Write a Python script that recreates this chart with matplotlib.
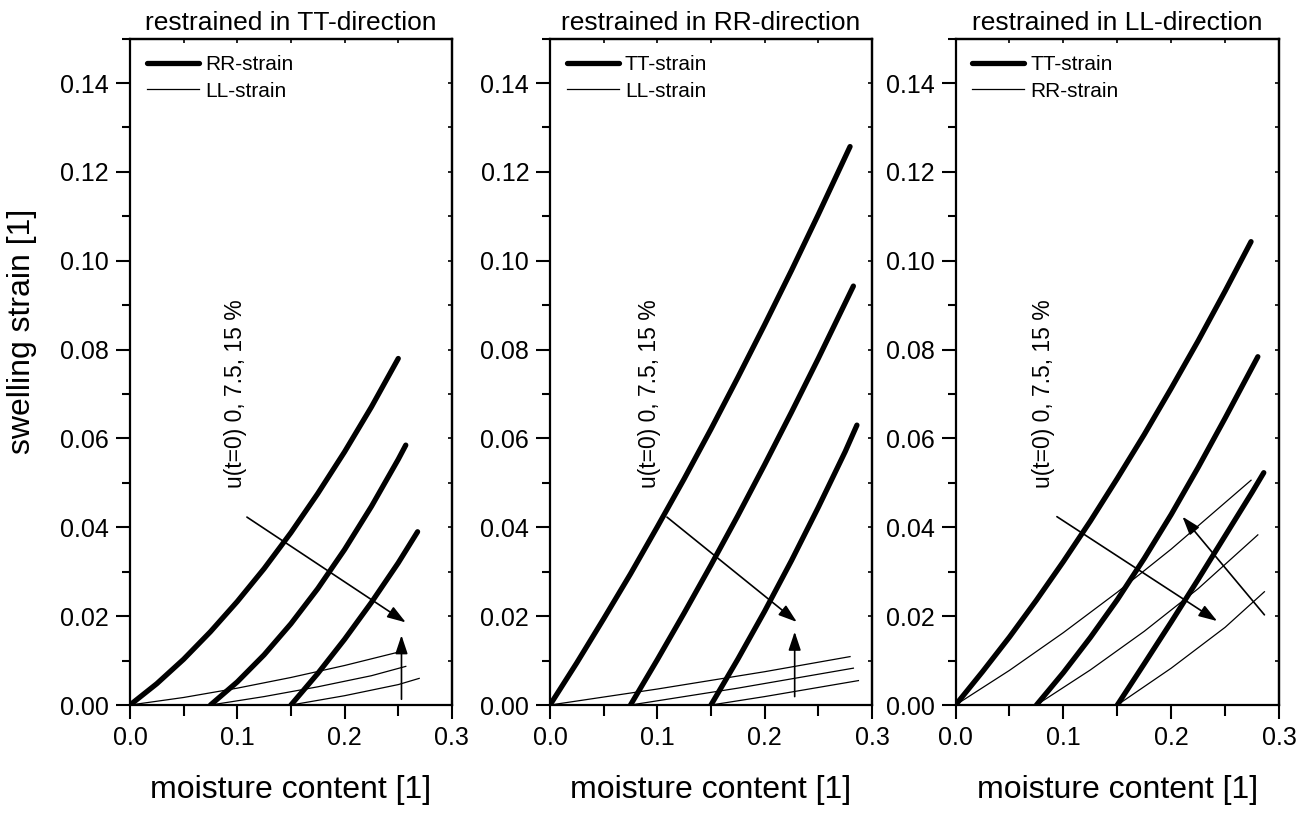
import matplotlib
matplotlib.use("Agg")
import matplotlib.pyplot as plt
from matplotlib.ticker import MultipleLocator, FormatStrFormatter

plt.rcParams["font.family"] = ["Liberation Sans", "DejaVu Sans"]

# panel titles and legend labels
titles = ["restrained in TT-direction", "restrained in RR-direction", "restrained in LL-direction"]
thick_labels = ["RR-strain", "TT-strain", "TT-strain"]
thin_labels = ["LL-strain", "LL-strain", "RR-strain"]
note = "u(t=0) 0, 7.5, 15 %"

# panel 1: restrained in TT-direction
p1_thick_x = [[0.0, 0.025, 0.05, 0.075, 0.10, 0.125, 0.15, 0.175, 0.20, 0.225, 0.25],
              [0.075, 0.10, 0.125, 0.15, 0.175, 0.20, 0.225, 0.25, 0.257],
              [0.15, 0.175, 0.20, 0.225, 0.25, 0.268]]
p1_thick_y = [[0.0, 0.0048, 0.0103, 0.0165, 0.0233, 0.0307, 0.0388, 0.0476, 0.057, 0.0671, 0.078],
              [0.0, 0.0052, 0.0113, 0.0183, 0.0262, 0.035, 0.0447, 0.0553, 0.0585],
              [0.0, 0.0071, 0.0148, 0.0231, 0.0320, 0.039]]
p1_thin_x = [[0.0, 0.05, 0.10, 0.15, 0.20, 0.25],
             [0.075, 0.125, 0.175, 0.225, 0.257],
             [0.15, 0.20, 0.25, 0.2695]]
p1_thin_y = [[0.0, 0.0017, 0.0038, 0.0062, 0.0089, 0.0119],
             [0.0, 0.0019, 0.0041, 0.0066, 0.0087],
             [0.0, 0.0021, 0.0046, 0.0060]]

# panel 2: restrained in RR-direction
p2_thick_x = [[0.0, 0.025, 0.05, 0.075, 0.10, 0.125, 0.15, 0.175, 0.20, 0.225, 0.25, 0.2796],
              [0.075, 0.10, 0.125, 0.15, 0.175, 0.20, 0.225, 0.25, 0.2827],
              [0.15, 0.175, 0.20, 0.225, 0.25, 0.275, 0.286]]
p2_thick_y = [[0.0, 0.0095, 0.0194, 0.0295, 0.0401, 0.0509, 0.0621, 0.0737, 0.0856, 0.0978, 0.1104, 0.1257],
              [0.0, 0.0102, 0.0207, 0.0315, 0.0426, 0.0541, 0.0659, 0.078, 0.0943],
              [0.0, 0.0103, 0.0211, 0.0325, 0.0445, 0.057, 0.063]]
p2_thin_x = [[0.0, 0.10, 0.20, 0.2796],
             [0.075, 0.175, 0.2827],
             [0.15, 0.20, 0.2874]]
p2_thin_y = [[0.0, 0.0036, 0.0075, 0.0109],
             [0.0, 0.0038, 0.0083],
             [0.0, 0.0019, 0.0055]]

# panel 3: restrained in LL-direction
p3_thick_x = [[0.0, 0.025, 0.05, 0.075, 0.10, 0.125, 0.15, 0.175, 0.20, 0.225, 0.25, 0.274],
              [0.075, 0.10, 0.125, 0.15, 0.175, 0.20, 0.225, 0.25, 0.2803],
              [0.15, 0.175, 0.20, 0.225, 0.25, 0.275, 0.2858]]
p3_thick_y = [[0.0, 0.0075, 0.0153, 0.0236, 0.0323, 0.0414, 0.051, 0.0609, 0.0713, 0.082, 0.0932, 0.1043],
              [0.0, 0.0073, 0.0152, 0.0237, 0.033, 0.0429, 0.0535, 0.0646, 0.0784],
              [0.0, 0.0093, 0.0187, 0.0283, 0.0381, 0.0479, 0.0523]]
p3_thin_x = [[0.0, 0.05, 0.10, 0.15, 0.20, 0.274],
             [0.075, 0.125, 0.175, 0.225, 0.2803],
             [0.15, 0.20, 0.25, 0.2864]]
p3_thin_y = [[0.0, 0.0078, 0.0163, 0.0254, 0.0351, 0.0506],
             [0.0, 0.0079, 0.0166, 0.0262, 0.0383],
             [0.0, 0.0083, 0.0175, 0.0255]]

# annotation arrows (start, tip) in data units
p1_arrows = [((0.109, 0.0423), (0.257, 0.0186)), ((0.253, 0.0013), (0.253, 0.0157))]
p2_arrows = [((0.109, 0.0423), (0.230, 0.0187)), ((0.228, 0.0019), (0.228, 0.0165))]
p3_arrows = [((0.094, 0.0424), (0.2426, 0.0189)), ((0.2864, 0.0203), (0.2104, 0.0424))]
note_pos = [(0.098, 0.070), (0.093, 0.070), (0.082, 0.070)]

panels = [
    (p1_thick_x, p1_thick_y, p1_thin_x, p1_thin_y, p1_arrows),
    (p2_thick_x, p2_thick_y, p2_thin_x, p2_thin_y, p2_arrows),
    (p3_thick_x, p3_thick_y, p3_thin_x, p3_thin_y, p3_arrows),
]

fig = plt.figure(figsize=(13.02, 8.13), dpi=100)
rects = [[0.0998, 0.1328, 0.2473, 0.8197],
         [0.4224, 0.1328, 0.2473, 0.8197],
         [0.7339, 0.1328, 0.2485, 0.8197]]

for i, (tx, ty, nx, ny, arrows) in enumerate(panels):
    ax = fig.add_axes(rects[i])
    for k in range(3):
        ax.plot(tx[k], ty[k], color="black", lw=3.8, solid_capstyle="round",
                solid_joinstyle="round", label=thick_labels[i] if k == 0 else None)
    for k in range(3):
        ax.plot(nx[k], ny[k], color="black", lw=0.9,
                label=thin_labels[i] if k == 0 else None)

    for start, tip in arrows:
        ax.annotate("", xy=tip, xytext=start,
                    arrowprops=dict(arrowstyle="-|>,head_length=0.75,head_width=0.25",
                                    color="black", lw=1.2, mutation_scale=15,
                                    shrinkA=0, shrinkB=0))
    ax.text(note_pos[i][0], note_pos[i][1], note, rotation=90, fontsize=16.5,
            ha="center", va="center")

    ax.set_xlim(0, 0.3)
    ax.set_ylim(0, 0.15)
    ax.xaxis.set_major_locator(MultipleLocator(0.1))
    ax.xaxis.set_minor_locator(MultipleLocator(0.05))
    ax.yaxis.set_minor_locator(MultipleLocator(0.01))
    ax.xaxis.set_major_formatter(FormatStrFormatter("%.1f"))
    ax.yaxis.set_major_formatter(FormatStrFormatter("%.2f"))
    ax.set_yticks([0, 0.02, 0.04, 0.06, 0.08, 0.10, 0.12, 0.14])
    ax.tick_params(which="major", direction="out", length=10, width=1.5,
                   labelsize=18, pad=5)
    ax.tick_params(which="minor", direction="out", length=6, width=1.5)
    ax.tick_params(axis="x", which="minor", length=8)
    for s in ax.spines.values():
        s.set_linewidth(1.6)

    # inward ticks on top and right
    top = ax.secondary_xaxis("top")
    top.xaxis.set_major_locator(MultipleLocator(0.05))
    top.tick_params(direction="in", length=3, width=1.2, labeltop=False)
    top.spines["top"].set_linewidth(1.6)
    right = ax.secondary_yaxis("right")
    right.yaxis.set_major_locator(MultipleLocator(0.01))
    right.tick_params(direction="in", length=3, width=1.2, labelright=False)
    right.spines["right"].set_linewidth(1.6)

    ax.set_title(titles[i], fontsize=19, pad=6)
    ax.set_xlabel("moisture content [1]", fontsize=23)
    ax.xaxis.set_label_coords(0.5, -0.105)
    if i == 0:
        ax.set_ylabel("swelling strain [1]", fontsize=23)
        ax.yaxis.set_label_coords(-0.29, 0.56)

    ax.legend(loc="upper left", frameon=False, fontsize=15, handlelength=2.5,
              handletextpad=0.3, labelspacing=0.35, borderaxespad=0.4,
              bbox_to_anchor=(0.0, 1.0))

fig.savefig("out.png", dpi=100)
